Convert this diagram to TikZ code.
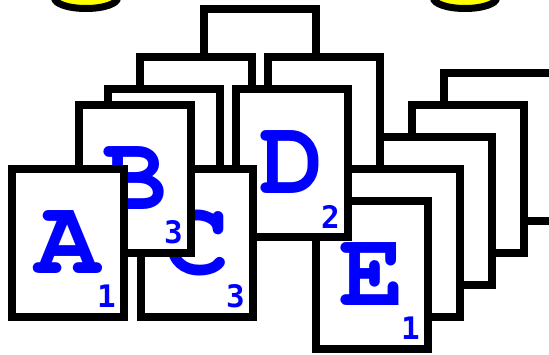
\documentclass[tikz,border=0pt]{standalone}
\usepackage{fontspec}
\usepackage[T1,TU]{fontenc}
\usetikzlibrary{shapes.geometric}
\newfontfamily\rankfamily{DejaVu Sans Mono}
\newcommand\cardfont{\fontencoding{T1}\fontfamily{pcr}\fontseries{b}\fontshape{n}\fontsize{108}{108}\selectfont}
\newcommand\rankfont{\rankfamily\bfseries\fontsize{31}{31}\selectfont}
\definecolor{fichaAmarilla}{HTML}{FFFF00}
\definecolor{letraAzul}{HTML}{0000FF}

\begin{document}
\begin{tikzpicture}[
    x=1pt, y=-1pt,
    card/.style={rectangle, draw=black, line width=8pt, fill=white, inner sep=0pt, outer sep=0pt,
                 minimum width=112pt, minimum height=148pt, anchor=north west,
                 font=\cardfont, text=letraAzul},
    rank/.style={inner sep=0pt, font=\rankfont, text=letraAzul},
    token/.style={ellipse, draw=black, line width=7pt, fill=fichaAmarilla, inner sep=0pt,
                  minimum width=63pt, minimum height=21pt}
  ]
  \clip (0,0) rectangle (549,354);

  % Fichas (arriba, cortadas)
  \foreach \nm/\tx in {tokL/86, tokR/465} {
    \node[token] (\nm) at (\tx,-2) {};
  }

  % Cartas vacias (de atras hacia delante)
  \foreach \nm/\px/\py in {root/204/9, lvlA/140/57, lvlB/268/57,
                           pila4/444/73, pila3/412/105, pila2/380/137, pila1/348/169,
                           mid/108/89} {
    \node[card] (\nm) at (\px,\py) {};
  }

  % Cartas con letra y rango
  \foreach \nm/\px/\py/\rk in {E/316/201/1, D/236/89/2, C/141/169/3, B/79/105/3, A/12/169/1} {
    \node[card] (card\nm) at (\px,\py) {\nm};
    \node[rank] (rank\nm) at ([xshift=-17.5pt, yshift=20.5pt]card\nm.south east) {\rk};
  }
\end{tikzpicture}
\end{document}
